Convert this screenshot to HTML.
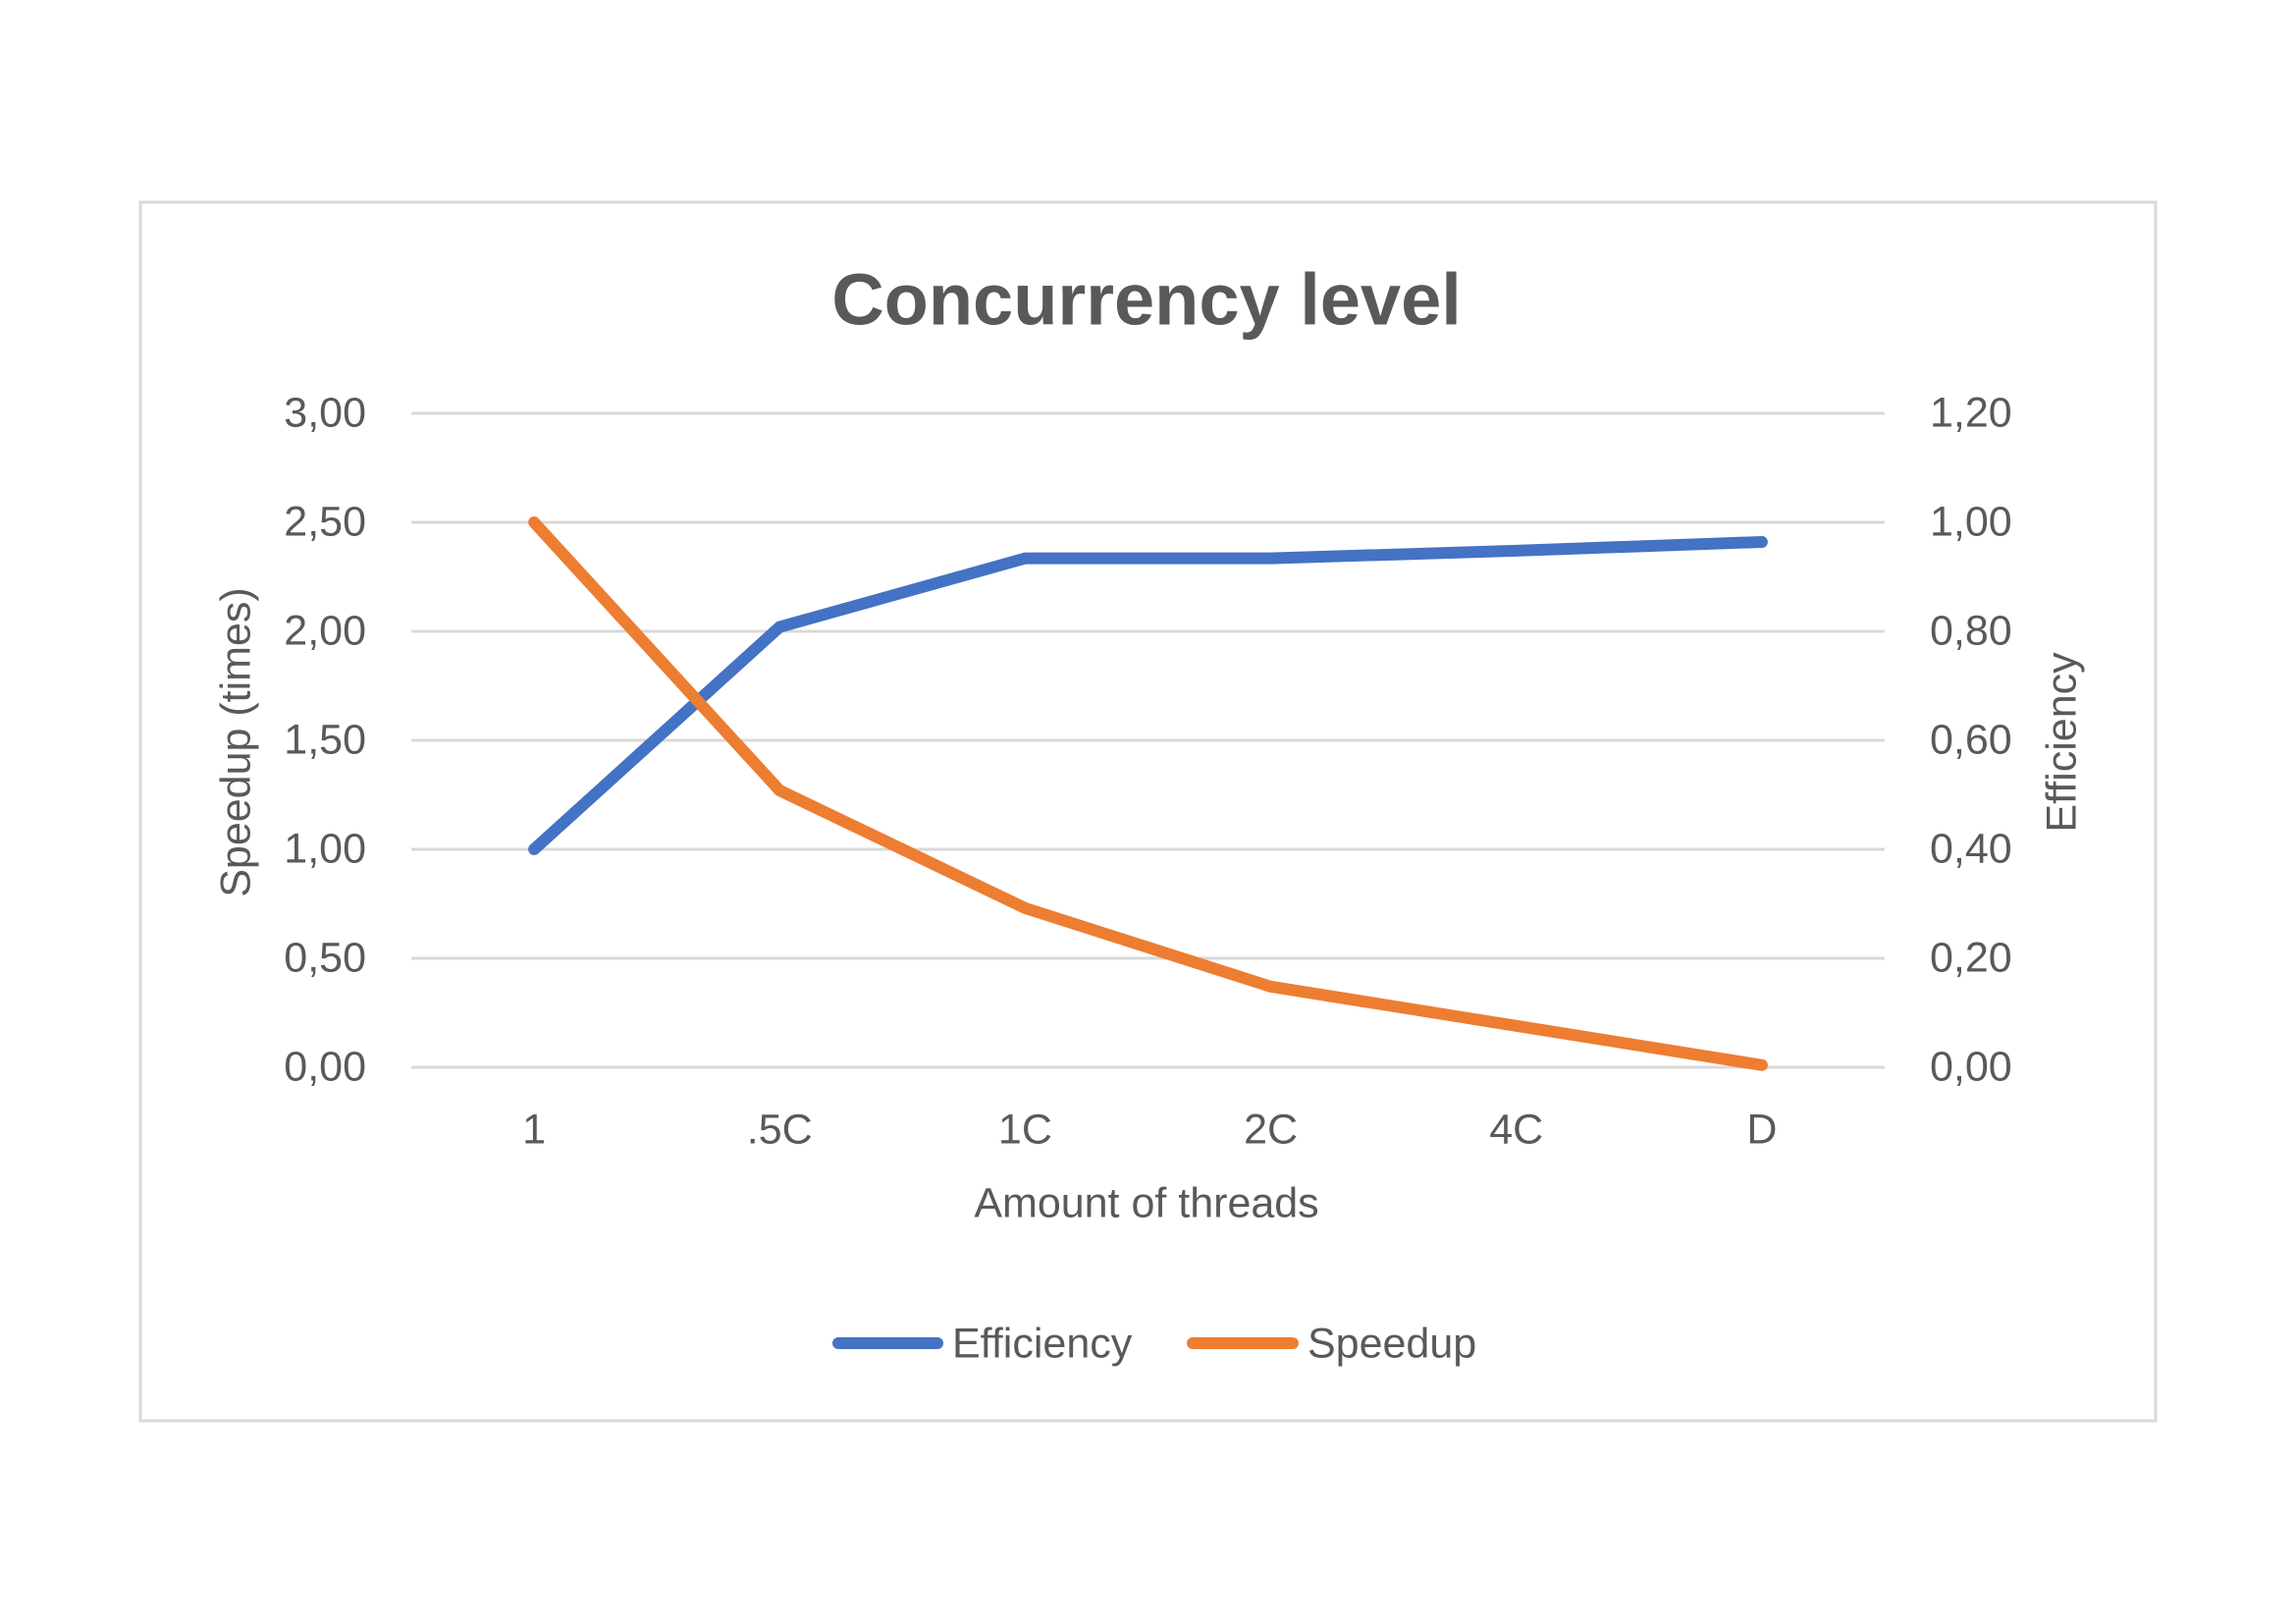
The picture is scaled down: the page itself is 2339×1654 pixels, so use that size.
<!DOCTYPE html>
<html><head><meta charset="utf-8"><style>
html,body{margin:0;padding:0;background:#fff;}
svg{display:block;font-family:"Liberation Sans",sans-serif;}
</style></head><body>
<svg id="chart" width="2339" height="1654" viewBox="0 0 2339 1654">
<rect x="143" y="206" width="2053" height="1241" fill="#fff" stroke="#d9d9d9" stroke-width="3"/>
<text x="1168" y="311" text-anchor="middle" dominant-baseline="middle" font-size="74" font-weight="bold" fill="#595959">Concurrency level</text>
<g id="grid"></g><g id="lines"></g><g id="labels"></g>
<text transform="translate(243,756) rotate(-90)" text-anchor="middle" dominant-baseline="middle" font-size="43" fill="#595959">Speedup (times)</text>
<text transform="translate(2103,756) rotate(-90)" text-anchor="middle" dominant-baseline="middle" font-size="43" fill="#595959">Efficiency</text>
<text x="1168" y="1228" text-anchor="middle" dominant-baseline="middle" font-size="43" fill="#595959">Amount of threads</text>
<g>
<line x1="854" y1="1368" x2="955" y2="1368" stroke="#4472C4" stroke-width="12" stroke-linecap="round"/>
<text x="970" y="1371" dominant-baseline="middle" font-size="43" fill="#595959">Efficiency</text>
<line x1="1215" y1="1368" x2="1317" y2="1368" stroke="#ED7D31" stroke-width="12" stroke-linecap="round"/>
<text x="1332" y="1371" dominant-baseline="middle" font-size="43" fill="#595959">Speedup</text>
</g>
</svg>
<script>
const categories=["1",".5C","1C","2C","4C","D"];
const efficiency=[0.40,0.808,0.934,0.934,0.948,0.964];
const speedup=[2.50,1.27,0.73,0.37,0.19,0.01];
const leftTicks=["0,00","0,50","1,00","1,50","2,00","2,50","3,00"];
const rightTicks=["0,00","0,20","0,40","0,60","0,80","1,00","1,20"];
const NS="http://www.w3.org/2000/svg";
const X0=419,X1=1920,Y0=1087,Y1=421;
const xPos=i=>X0+(X1-X0)*(i+0.5)/categories.length;
const yL=v=>Y0-(Y0-Y1)*v/3;
const yR=v=>Y0-(Y0-Y1)*v/1.2;
function mk(t,a,p){const e=document.createElementNS(NS,t);for(const k in a)e.setAttribute(k,a[k]);p.appendChild(e);return e;}
const grid=document.getElementById('grid'),lines=document.getElementById('lines'),labels=document.getElementById('labels');
leftTicks.forEach((t,i)=>{
 const y=yL(i*0.5);
 const g=mk('line',{x1:X0,x2:X1,y1:y,y2:y,stroke:'#d9d9d9','stroke-width':3},grid);
 
 
 const a=mk('text',{x:373,y:y+2,'text-anchor':'end','dominant-baseline':'middle','font-size':43,fill:'#595959'},labels);a.textContent=t;
 
 
 const b=mk('text',{x:1966,y:yR(i*0.2)+2,'dominant-baseline':'middle','font-size':43,fill:'#595959'},labels);b.textContent=rightTicks[i];
 
 
});
categories.forEach((c,i)=>{
 const t=mk('text',{x:xPos(i),y:1153,'text-anchor':'middle','dominant-baseline':'middle','font-size':43,fill:'#595959'},labels);t.textContent=c;
 
 
});
const pe=mk('polyline',{points:efficiency.map((v,i)=>xPos(i)+','+yR(v)).join(' '),fill:'none',stroke:'#4472C4','stroke-width':12,'stroke-linecap':'round','stroke-linejoin':'round'},lines);


const ps=mk('polyline',{points:speedup.map((v,i)=>xPos(i)+','+yL(v)).join(' '),fill:'none',stroke:'#ED7D31','stroke-width':12,'stroke-linecap':'round','stroke-linejoin':'round'},lines);


</script>
</body></html>
